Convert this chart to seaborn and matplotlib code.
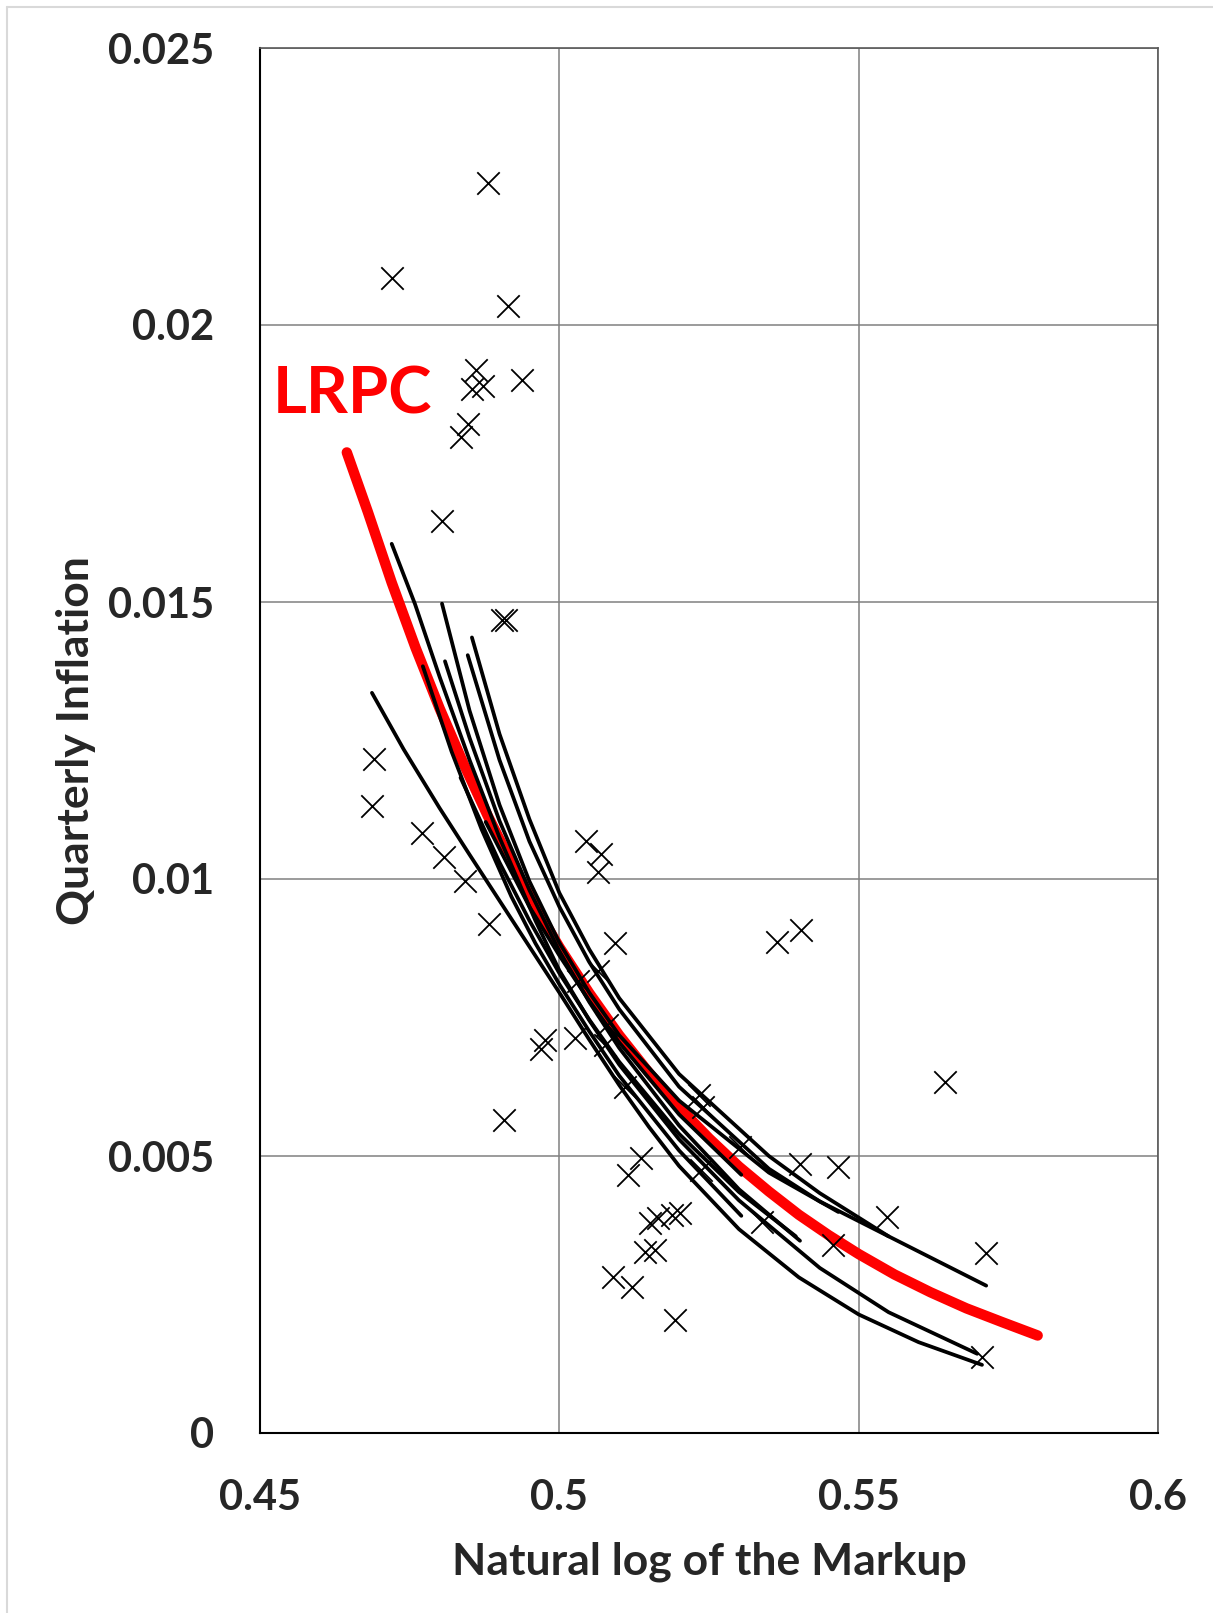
import numpy as np
import pandas as pd
import matplotlib
matplotlib.use('Agg')
import matplotlib.pyplot as plt
import seaborn as sns
from matplotlib.lines import Line2D

sns.set_style('white')
plt.rcParams['font.family'] = ['Lato', 'DejaVu Sans']

# scatter of observed points (markup, inflation)
obs_x = [0.4881, 0.4720, 0.4914, 0.4938, 0.4861, 0.4854, 0.4873, 0.4847, 0.4835, 0.4804,
         0.4905, 0.4911, 0.4691, 0.4687, 0.4771, 0.4808, 0.4842, 0.4883, 0.4907, 0.4969,
         0.4976, 0.5026, 0.5045, 0.5069, 0.5065, 0.5093, 0.5064, 0.5032, 0.5079, 0.5076,
         0.5110, 0.5234, 0.5240, 0.5301, 0.5237, 0.5137, 0.5115, 0.5151, 0.5165, 0.5189,
         0.5143, 0.5160, 0.5089, 0.5122, 0.5194, 0.5363, 0.5404, 0.5402, 0.5466, 0.5548,
         0.5457, 0.5713, 0.5644, 0.5706, 0.5338, 0.5201]
obs_y = [0.02257, 0.02084, 0.02034, 0.01900, 0.01919, 0.01885, 0.01889, 0.01822, 0.01798, 0.01647,
         0.01467, 0.01467, 0.01217, 0.01131, 0.01083, 0.01040, 0.00996, 0.00918, 0.00565, 0.00693,
         0.00710, 0.00713, 0.01068, 0.01046, 0.01012, 0.00884, 0.00834, 0.00815, 0.00737, 0.00700,
         0.00624, 0.00611, 0.00589, 0.00516, 0.00475, 0.00496, 0.00466, 0.00379, 0.00388, 0.00394,
         0.00327, 0.00331, 0.00282, 0.00264, 0.00204, 0.00886, 0.00908, 0.00485, 0.00481, 0.00390,
         0.00340, 0.00325, 0.00633, 0.00137, 0.00381, 0.00397]

# long-run Phillips curve (red)
lrpc_x = [0.4645, 0.468, 0.472, 0.476, 0.480, 0.484, 0.488, 0.492, 0.496, 0.500,
          0.505, 0.510, 0.515, 0.520, 0.525, 0.530, 0.535, 0.540, 0.545, 0.550,
          0.556, 0.562, 0.568, 0.574, 0.5799]
lrpc_y = [0.01770, 0.01663, 0.01535, 0.01417, 0.01308, 0.01208, 0.01115, 0.01029, 0.00950, 0.00877,
          0.00794, 0.00718, 0.00650, 0.00588, 0.00532, 0.00481, 0.00436, 0.00394, 0.00357, 0.00323,
          0.00286, 0.00254, 0.00225, 0.00200, 0.00176]

# individual curves (black)
c1_x = [0.4854, 0.490, 0.495, 0.500, 0.505, 0.510, 0.520, 0.535, 0.5435, 0.555, 0.5713]
c1_y = [0.01436, 0.01262, 0.01108, 0.00975, 0.00873, 0.00785, 0.00648, 0.00500, 0.00433, 0.00355, 0.00266]
c2_x = [0.4847, 0.490, 0.495, 0.500, 0.505, 0.510, 0.520, 0.535, 0.5435, 0.555]
c2_y = [0.01404, 0.01215, 0.01068, 0.00950, 0.00850, 0.00765, 0.00625, 0.00477, 0.00418, 0.00355]
c3_x = [0.4804, 0.485, 0.490, 0.495, 0.500, 0.505, 0.510, 0.520, 0.535, 0.5466]
c3_y = [0.01497, 0.01304, 0.01134, 0.00996, 0.00885, 0.00795, 0.00718, 0.00600, 0.00470, 0.00399]
c4_x = [0.4687, 0.474, 0.480, 0.485, 0.490, 0.495, 0.500, 0.505, 0.510, 0.515,
        0.520, 0.530, 0.540, 0.550, 0.560, 0.5706]
c4_y = [0.01336, 0.01234, 0.01128, 0.01044, 0.00961, 0.00878, 0.00795, 0.00710, 0.00628, 0.00552,
        0.00482, 0.00368, 0.00281, 0.00214, 0.00164, 0.00123]
c5_x = [0.4720, 0.4759, 0.480, 0.485, 0.490, 0.496, 0.500, 0.505, 0.510, 0.520,
        0.530, 0.5435, 0.555, 0.5698]
c5_y = [0.01605, 0.01496, 0.01365, 0.01215, 0.01075, 0.00925, 0.00835, 0.00745, 0.00665, 0.00530,
        0.00420, 0.00298, 0.00218, 0.00143]
c6_x = [0.4809, 0.485, 0.490, 0.495, 0.500, 0.505, 0.510, 0.520, 0.530, 0.5402]
c6_y = [0.01393, 0.01255, 0.01105, 0.00980, 0.00870, 0.00778, 0.00695, 0.00555, 0.00440, 0.00347]
c7_x = [0.4772, 0.482, 0.487, 0.492, 0.496, 0.500, 0.505, 0.510, 0.520, 0.5304]
c7_y = [0.01384, 0.01230, 0.01090, 0.00968, 0.00884, 0.00810, 0.00725, 0.00645, 0.00510, 0.00392]
c8_x = [0.4835, 0.490, 0.495, 0.500, 0.505, 0.510, 0.520, 0.530, 0.5395]
c8_y = [0.01183, 0.01030, 0.00925, 0.00830, 0.00746, 0.00670, 0.00540, 0.00435, 0.00355]
c9_x = [0.4877, 0.495, 0.500, 0.505, 0.510, 0.520, 0.5304]
c9_y = [0.01103, 0.00950, 0.00862, 0.00780, 0.00705, 0.00575, 0.00466]

x_ticks = [0.45, 0.5, 0.55, 0.6]
x_labels = ['0.45', '0.5', '0.55', '0.6']
y_ticks = [0, 0.005, 0.01, 0.015, 0.02, 0.025]
y_labels = ['0', '0.005', '0.01', '0.015', '0.02', '0.025']

curves = [(c1_x, c1_y), (c2_x, c2_y), (c3_x, c3_y), (c4_x, c4_y), (c5_x, c5_y),
          (c6_x, c6_y), (c7_x, c7_y), (c8_x, c8_y), (c9_x, c9_y)]
frames = []
for i, (cx, cy) in enumerate(curves):
    frames.append(pd.DataFrame({'x': cx, 'y': cy, 'curve': i}))
curve_df = pd.concat(frames, ignore_index=True)

fig = plt.figure(figsize=(12.13, 16.13), dpi=100)
ax = fig.add_axes([260 / 1213, 1 - 1433 / 1613, 898 / 1213, 1385 / 1613])

ax.set_xlim(0.45, 0.6)
ax.set_ylim(0, 0.025)
ax.set_xticks(x_ticks)
ax.set_xticklabels(x_labels)
ax.set_yticks(y_ticks)
ax.set_yticklabels(y_labels)
ax.grid(True, color='#808080', lw=1.1)
ax.set_axisbelow(True)

sns.lineplot(x=lrpc_x, y=lrpc_y, ax=ax, color='#ff0000', lw=7.5, sort=False,
             solid_capstyle='round', solid_joinstyle='round', zorder=3)
sns.lineplot(data=curve_df, x='x', y='y', units='curve', estimator=None, sort=False,
             ax=ax, color='black', lw=2.7, solid_capstyle='round', solid_joinstyle='round',
             zorder=4, legend=False)
sns.scatterplot(x=obs_x, y=obs_y, ax=ax, marker='x', color='black', s=260,
                linewidth=1.3, zorder=5)

ax.text(0.4522, 0.01874, 'LRPC', color='#ff0000', fontsize=47, fontweight='bold',
        ha='left', va='center')

ax.set_xlabel('Natural log of the Markup', fontsize=32, fontweight='bold', labelpad=18)
ax.set_ylabel('Quarterly Inflation', fontsize=32, fontweight='bold', labelpad=9)
ax.tick_params(axis='both', length=0, labelsize=30, pad=33)
for lab in ax.get_xticklabels() + ax.get_yticklabels():
    lab.set_fontweight('bold')

for side in ['top', 'right']:
    ax.spines[side].set_color('#595959')
    ax.spines[side].set_linewidth(1.2)
for side in ['left', 'bottom']:
    ax.spines[side].set_color('black')
    ax.spines[side].set_linewidth(1.5)

# thin light frame around the chart area
fig.add_artist(Line2D([7 / 1213, 7 / 1213], [0, 1 - 7 / 1613], transform=fig.transFigure,
                      color='#d9d9d9', lw=1.5))
fig.add_artist(Line2D([7 / 1213, 1], [1 - 7 / 1613, 1 - 7 / 1613], transform=fig.transFigure,
                      color='#d9d9d9', lw=1.5))

fig.savefig('out.png', dpi=100)
